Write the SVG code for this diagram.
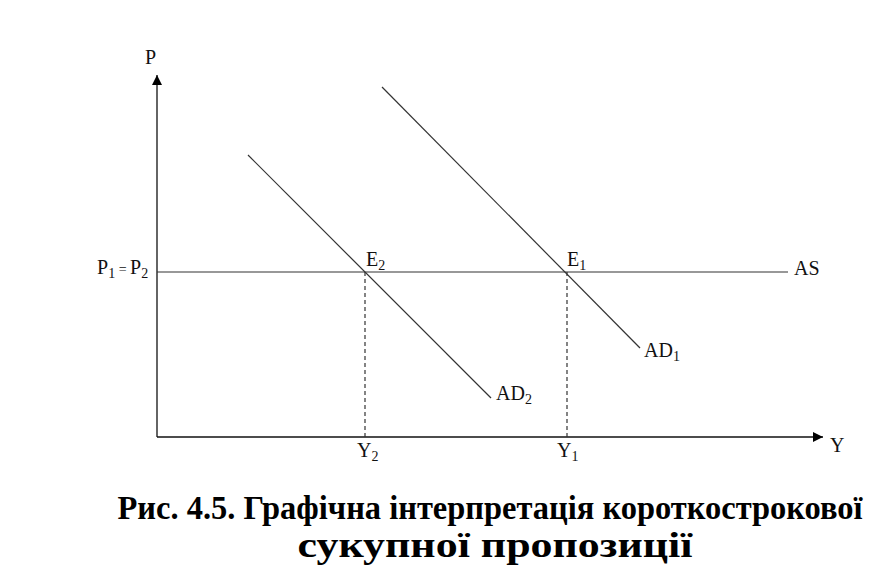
<svg xmlns="http://www.w3.org/2000/svg" width="875" height="571" viewBox="0 0 875 571">
<style>
.t{font-family:"Liberation Serif","Times New Roman",serif;font-size:20px;fill:#111}
.s{font-size:14px}
.ax{stroke:#111;stroke-width:1.3;fill:none}
.ln{stroke:#333;stroke-width:1.2;fill:none}
.d{stroke:#333;stroke-width:1.2;stroke-dasharray:4,3;fill:none}
.cap{font-family:"Liberation Serif","Times New Roman",serif;font-weight:bold;fill:#000}
</style>
<defs>
<marker id="arr" viewBox="0 0 10 10" refX="10" refY="5" markerWidth="10" markerHeight="10" markerUnits="userSpaceOnUse" orient="auto">
<path d="M0,0 L10,5 L0,10 z" fill="#000"/>
</marker>
</defs>
<rect width="875" height="571" fill="#fff"/>
<g id="axes">
<line class="ax" x1="157" y1="437" x2="157" y2="75" marker-end="url(#arr)"/>
<line class="ax" x1="157" y1="437" x2="823" y2="437" marker-end="url(#arr)"/>
<text class="t" x="145" y="64">P</text>
<text class="t" x="830" y="452">Y</text>
</g>
<g id="connectors">
<line class="ln" x1="157" y1="272" x2="788" y2="272"/>
<line class="ln" x1="248" y1="155" x2="491" y2="398"/>
<line class="ln" x1="382" y1="87" x2="640" y2="348"/>
<line class="d" x1="365" y1="272" x2="365" y2="437"/>
<line class="d" x1="567" y1="272" x2="567" y2="437"/>
</g>
<g id="labels">
<text class="t" x="97" y="274">P<tspan class="s" dy="4">1</tspan><tspan dy="-4" font-size="14"> = </tspan>P<tspan class="s" dy="4">2</tspan></text>
<text class="t" x="794" y="275">AS</text>
<text class="t" x="366" y="266">E<tspan class="s" dy="4">2</tspan></text>
<text class="t" x="567" y="266">E<tspan class="s" dy="4">1</tspan></text>
<text class="t" x="496" y="400">AD<tspan class="s" dy="4">2</tspan></text>
<text class="t" x="644" y="357">AD<tspan class="s" dy="4">1</tspan></text>
<text class="t" x="357" y="457">Y<tspan class="s" dy="4">2</tspan></text>
<text class="t" x="557" y="457">Y<tspan class="s" dy="4">1</tspan></text>
</g>
<g id="caption">
<text class="cap" x="490" y="519" font-size="34" text-anchor="middle" textLength="745" lengthAdjust="spacingAndGlyphs">Рис. 4.5. Графічна інтерпретація короткострокової</text>
<text class="cap" x="495" y="557" font-size="35" text-anchor="middle" textLength="395" lengthAdjust="spacingAndGlyphs">сукупної пропозиції</text>
</g>
</svg>
